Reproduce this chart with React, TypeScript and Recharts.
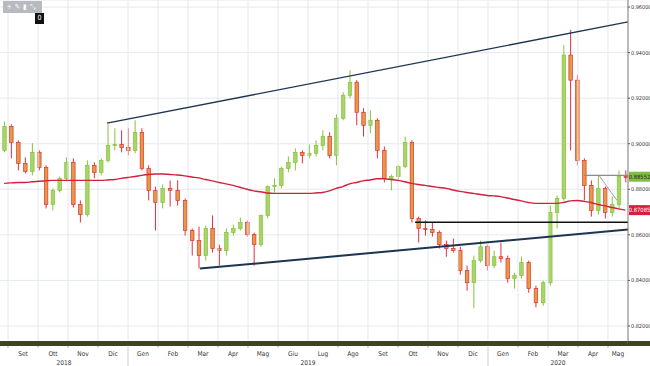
import React from 'react';
import {
    ComposedChart,
    Bar,
    Line,
    XAxis,
    YAxis,
    CartesianGrid,
    ReferenceLine,
} from 'recharts';

// weekly candles, EUR/GBP, weeks from 27 Aug 2018 to mid May 2020
const opens = [
    0.8971, 0.9076, 0.9006, 0.8914, 0.8878, 0.8962, 0.8896, 0.8733, 0.8795, 0.8848,
    0.8918, 0.8733, 0.8689, 0.8905, 0.8874, 0.8927, 0.8993, 0.8997, 0.8984, 0.8971,
    0.905, 0.8892, 0.8795, 0.8742, 0.8804, 0.8795, 0.8751, 0.8619, 0.8575, 0.8509,
    0.8628, 0.854, 0.8531, 0.861, 0.8628, 0.8654, 0.8601, 0.8557, 0.8685, 0.8812,
    0.8817, 0.8892, 0.8918, 0.8962, 0.8949, 0.8958, 0.8993, 0.9032, 0.8949, 0.9112,
    0.9213, 0.927, 0.9138, 0.9081, 0.9103, 0.8971, 0.8848, 0.8856, 0.89, 0.9006,
    0.8672, 0.8628, 0.8623, 0.861, 0.8557, 0.854, 0.8531, 0.8443, 0.839, 0.8487,
    0.8548, 0.8465, 0.8504, 0.8496, 0.8408, 0.8421, 0.8478, 0.8364, 0.8302, 0.839,
    0.8698, 0.876, 0.9389, 0.9279, 0.8927, 0.8817, 0.8707, 0.8804, 0.8698, 0.8733,
    0.8856,
];
const highs = [
    0.9098, 0.9085, 0.9015, 0.894, 0.9002, 0.8971, 0.8905, 0.8804, 0.8856, 0.894,
    0.8936, 0.8751, 0.8927, 0.8918, 0.8936, 0.9085, 0.9068, 0.9059, 0.9068, 0.9103,
    0.9068, 0.8905, 0.8812, 0.8821, 0.8839, 0.8839, 0.876, 0.8628, 0.8636, 0.8641,
    0.8685, 0.8557, 0.8628, 0.8645, 0.8676, 0.8663, 0.861, 0.8689, 0.8817, 0.8848,
    0.89, 0.8944, 0.898, 0.8971, 0.8997, 0.9015, 0.9059, 0.905, 0.9129, 0.9226,
    0.9323, 0.9279, 0.9156, 0.9147, 0.9112, 0.8988, 0.8865, 0.8905, 0.9032, 0.9015,
    0.868, 0.8663, 0.8654, 0.8619, 0.8575, 0.8584, 0.8548, 0.8465, 0.8509, 0.8575,
    0.8557, 0.8531, 0.8566, 0.8509, 0.8434, 0.8504, 0.8487, 0.8377, 0.8399, 0.8729,
    0.8773, 0.9433, 0.95, 0.9301, 0.8936, 0.8839, 0.8861, 0.8812, 0.8768, 0.8883,
    0.8883,
];
const lows = [
    0.8962, 0.8936, 0.8883, 0.887, 0.8861, 0.8883, 0.8716, 0.8707, 0.8786, 0.8839,
    0.872, 0.8654, 0.868, 0.8848, 0.8861, 0.8918, 0.8971, 0.8962, 0.8949, 0.8958,
    0.8883, 0.8751, 0.8619, 0.8716, 0.8724, 0.8729, 0.8597, 0.8509, 0.8452, 0.8487,
    0.8522, 0.8465, 0.8509, 0.8597, 0.8619, 0.8592, 0.8465, 0.8548, 0.8672, 0.8786,
    0.8804, 0.8874, 0.8883, 0.8914, 0.8936, 0.8944, 0.8971, 0.8936, 0.8905, 0.9103,
    0.92, 0.9081, 0.9032, 0.9046, 0.8936, 0.883, 0.8795, 0.8839, 0.8892, 0.8654,
    0.8566, 0.8597, 0.8592, 0.854, 0.8504, 0.8522, 0.8425, 0.8355, 0.8277, 0.8478,
    0.8443, 0.8452, 0.8478, 0.839, 0.8364, 0.8408, 0.8346, 0.8282, 0.8289, 0.8377,
    0.8628, 0.8751, 0.8971, 0.8905, 0.8751, 0.868, 0.8689, 0.8672, 0.868, 0.8716,
    0.883,
];
const closes = [
    0.9076, 0.9006, 0.8914, 0.8878, 0.8962, 0.8896, 0.8733, 0.8795, 0.8848, 0.8918,
    0.8733, 0.8689, 0.8905, 0.8874, 0.8927, 0.8993, 0.8997, 0.8984, 0.8971, 0.905,
    0.8892, 0.8795, 0.8742, 0.8804, 0.8795, 0.8751, 0.8619, 0.8575, 0.8509, 0.8628,
    0.854, 0.8531, 0.861, 0.8628, 0.8654, 0.8601, 0.8557, 0.8685, 0.8812, 0.8817,
    0.8892, 0.8918, 0.8962, 0.8949, 0.8958, 0.8993, 0.9032, 0.8949, 0.9112, 0.9213,
    0.927, 0.9138, 0.9081, 0.9103, 0.8971, 0.8848, 0.8856, 0.89, 0.9006, 0.8672,
    0.8628, 0.8623, 0.861, 0.8557, 0.854, 0.8531, 0.8443, 0.839, 0.8487, 0.8548,
    0.8465, 0.8504, 0.8496, 0.8408, 0.8421, 0.8478, 0.8364, 0.8302, 0.839, 0.8698,
    0.876, 0.9389, 0.9279, 0.8927, 0.8817, 0.8707, 0.8804, 0.8698, 0.8733, 0.8856,
    0.88552,
];
// 200 day moving average
const movingAvg = [
    0.8826, 0.8828, 0.883, 0.883, 0.8833, 0.8835, 0.8837, 0.8839, 0.8839, 0.8839,
    0.8839, 0.8839, 0.8839, 0.8839, 0.8839, 0.8841, 0.8843, 0.8848, 0.8852, 0.8856,
    0.8861, 0.8865, 0.8867, 0.8867, 0.8865, 0.8863, 0.8859, 0.8854, 0.885, 0.8843,
    0.8837, 0.883, 0.8824, 0.8817, 0.8809, 0.88, 0.8793, 0.8789, 0.8784, 0.8782,
    0.8782, 0.8782, 0.8782, 0.8782, 0.8782, 0.8784, 0.8786, 0.8793, 0.8804, 0.8812,
    0.8824, 0.883, 0.8837, 0.8841, 0.8846, 0.8846, 0.8843, 0.8839, 0.8833, 0.8826,
    0.8821, 0.8817, 0.8812, 0.8808, 0.8804, 0.8797, 0.8791, 0.8786, 0.8782, 0.8777,
    0.8773, 0.8771, 0.8768, 0.8762, 0.8755, 0.8749, 0.8742, 0.8738, 0.8738, 0.8738,
    0.8738, 0.8742, 0.8749, 0.8751, 0.8747, 0.8742, 0.8733, 0.8727, 0.872, 0.8714,
    0.87085,
];

// time axis in months, 0 = 1 Aug 2018
const firstWeek = Date.UTC(2018, 7, 28);
const monthNames = [
    'Set', 'Ott', 'Nov', 'Dic', 'Gen', 'Feb', 'Mar', 'Apr', 'Mag', 'Giu', 'Lug',
    'Ago', 'Set', 'Ott', 'Nov', 'Dic', 'Gen', 'Feb', 'Mar', 'Apr', 'Mag',
];
const yearNames = ['2018', '2019', '2020'];
const yearStarts = [5, 17];
const timeDomain: [number, number] = [0.7333, 21.6667];
const priceTicks = [0.82, 0.84, 0.86, 0.88, 0.9, 0.92, 0.94, 0.96];

// drawn lines: [month, price] pairs
const upperChannel = [[4.3, 0.909], [21.6667, 0.9535]];
const lowerChannel = [[7.4, 0.8452], [21.6667, 0.8623]];
const supportLine = [[14.57, 0.8655], [21.6667, 0.8655]];
const rangeTop = [[20.2, 0.8861], [21.6667, 0.8861]];
const wedgeLine = [[20.7, 0.8861], [21.3, 0.8751]];

function monthValue(ms: number) {
    const d = new Date(ms);
    const y = d.getUTCFullYear();
    const mo = d.getUTCMonth();
    const days = new Date(Date.UTC(y, mo + 1, 0)).getUTCDate();
    return (y - 2018) * 12 + mo - 7 + (d.getUTCDate() - 1) / days;
}

const data = closes.map((c, i) => ({
    t: monthValue(firstWeek + i * 7 * 86400000),
    open: opens[i],
    high: highs[i],
    low: lows[i],
    close: c,
    ma: movingAvg[i],
}));

const lastClose = closes[closes.length - 1];
const lastMa = movingAvg[movingAvg.length - 1];

type TickInfo = { kind: string; text: string };
const tickInfo = new Map<string, TickInfo>();
const key = (v: number) => v.toFixed(3);
monthNames.forEach((name, i) => {
    const a = Math.max(i + 1, timeDomain[0]);
    const b = Math.min(i + 2, timeDomain[1]);
    tickInfo.set(key((a + b) / 2), { kind: 'month', text: name });
    tickInfo.set(key(i + 1), {
        kind: yearStarts.includes(i + 1) ? 'year-start' : 'start',
        text: '',
    });
});
yearNames.forEach((name, i) => {
    const a = i === 0 ? timeDomain[0] : yearStarts[i - 1];
    const b = i < yearStarts.length ? yearStarts[i] : timeDomain[1];
    tickInfo.set(key((a + b) / 2), { kind: 'year', text: name });
});
const timeTicks = Array.from(tickInfo.keys()).map(Number).sort((a, b) => a - b);
const monthStarts = monthNames.map((_, i) => i + 1);

const FONT = "'DejaVu Sans Condensed', 'Liberation Sans', Arial, sans-serif";

function Candle(props: any) {
    const { x, y, width, height, payload } = props;
    const { open, close, high, low } = payload;
    const top = height < 0 ? y + height : y;
    const h = Math.abs(height);
    const span = high - low || 1;
    const toY = (v: number) => top + ((high - v) / span) * h;
    const up = close >= open;
    const cx = x + width / 2;
    const bTop = toY(Math.max(open, close));
    const bBot = toY(Math.min(open, close));
    const wick = up ? '#86c23c' : '#e0303c';
    const body = up ? '#a8d468' : '#e49a3e';
    return (
        <g>
            <line x1={cx} x2={cx} y1={top} y2={top + h} stroke={wick} strokeWidth={1} />
            <rect
                x={x}
                y={bTop}
                width={width}
                height={Math.max(1, bBot - bTop)}
                fill={body}
                stroke={wick}
                strokeWidth={0.7}
            />
        </g>
    );
}

function TimeTick(props: any) {
    const { x, y, payload } = props;
    const t = tickInfo.get(key(payload.value));
    if (!t) return null;
    if (t.kind === 'month') {
        return (
            <text x={x} y={y + 12} textAnchor="middle" fontSize={6.5} fill="#333" fontFamily={FONT}>
                {t.text}
            </text>
        );
    }
    if (t.kind === 'year') {
        return (
            <text x={x} y={y + 21} textAnchor="middle" fontSize={6.5} fill="#333" fontFamily={FONT}>
                {t.text}
            </text>
        );
    }
    return (
        <line
            x1={x}
            x2={x}
            y1={y + 2}
            y2={y + (t.kind === 'year-start' ? 23 : 4)}
            stroke={t.kind === 'year-start' ? '#bbb' : '#666'}
            strokeWidth={0.7}
        />
    );
}

function priceBox(fill: string, text: string, color: string) {
    return (props: any) => {
        const { viewBox } = props;
        const bx = viewBox.x + viewBox.width + 1;
        return (
            <g>
                <rect x={bx} y={viewBox.y - 5} width={21} height={10} fill={fill} />
                <text
                    x={bx + 10.5}
                    y={viewBox.y + 2.2}
                    textAnchor="middle"
                    fontSize={5.8}
                    fill={color}
                    fontFamily={FONT}
                >
                    {text}
                </text>
            </g>
        );
    };
}

function seg(line: number[][]) {
    return line.map(([m, p]) => ({ x: m, y: p }));
}

function App() {
    return (
        <div style={{ position: 'relative', width: 650, height: 366, background: '#fff' }}>
            <style>{'body{margin:0}'}</style>
            <ComposedChart
                width={650}
                height={366}
                data={data}
                margin={{ top: 0, right: 0, bottom: 0, left: 0 }}
            >
                <XAxis
                    dataKey="t"
                    type="number"
                    domain={timeDomain}
                    allowDataOverflow
                    ticks={timeTicks}
                    interval={0}
                    tick={<TimeTick />}
                    tickLine={false}
                    tickSize={0}
                    tickMargin={0}
                    height={22.5}
                    axisLine={{ stroke: '#3f4326', strokeWidth: 5 }}
                />
                <YAxis
                    orientation="right"
                    width={22}
                    domain={[0.8123, 0.9631]}
                    allowDataOverflow
                    ticks={priceTicks}
                    tickFormatter={(v: number) => v.toFixed(5)}
                    tick={{ fontSize: 5.5, fill: '#333', fontFamily: FONT }}
                    tickSize={2}
                    tickMargin={1}
                    tickLine={{ stroke: '#555' }}
                    axisLine={{ stroke: '#777' }}
                />
                <CartesianGrid vertical={false} stroke="#e4e9ef" />
                {monthStarts.map((m) => (
                    <ReferenceLine key={'g' + m} x={m} stroke="#e4e9ef" />
                ))}
                <Bar
                    dataKey={(d: any) => [d.low, d.high]}
                    barSize={3.5}
                    shape={<Candle />}
                    isAnimationActive={false}
                />
                <Line
                    dataKey="ma"
                    stroke="#d2203c"
                    strokeWidth={1.4}
                    dot={false}
                    activeDot={false}
                    type="monotone"
                    isAnimationActive={false}
                />
                <ReferenceLine segment={seg(upperChannel)} stroke="#1d3550" strokeWidth={1.3} />
                <ReferenceLine segment={seg(lowerChannel)} stroke="#1d3550" strokeWidth={2} />
                <ReferenceLine segment={seg(supportLine)} stroke="#111" strokeWidth={1.4} />
                <ReferenceLine segment={seg(rangeTop)} stroke="#8c8c8c" strokeWidth={1.3} />
                <ReferenceLine segment={seg(wedgeLine)} stroke="#7d8c99" strokeWidth={0.8} />
                <ReferenceLine
                    y={lastClose}
                    stroke="none"
                    label={{ content: priceBox('#82bd45', lastClose.toFixed(5), '#1d2a10') }}
                />
                <ReferenceLine
                    y={lastMa}
                    stroke="none"
                    label={{ content: priceBox('#d61f3c', lastMa.toFixed(5), '#fff') }}
                />
            </ComposedChart>
            <div
                style={{
                    position: 'absolute',
                    left: 628,
                    top: 341,
                    width: 22,
                    height: 5,
                    background: '#3f4326',
                }}
            />
            <div
                style={{
                    position: 'absolute',
                    left: 3,
                    top: 1,
                    width: 39,
                    height: 12,
                    background: '#b7bbbf',
                    color: '#fff',
                    fontSize: 7,
                    fontFamily: FONT,
                    lineHeight: '12px',
                    letterSpacing: 3,
                    textAlign: 'center',
                }}
            >
                +✎▮⤡
            </div>
            <div
                style={{
                    position: 'absolute',
                    left: 35,
                    top: 13,
                    width: 9,
                    height: 11,
                    background: '#111',
                    color: '#fff',
                    fontSize: 7,
                    fontFamily: FONT,
                    lineHeight: '11px',
                    textAlign: 'center',
                }}
            >
                0
            </div>
        </div>
    );
}

export default App;
